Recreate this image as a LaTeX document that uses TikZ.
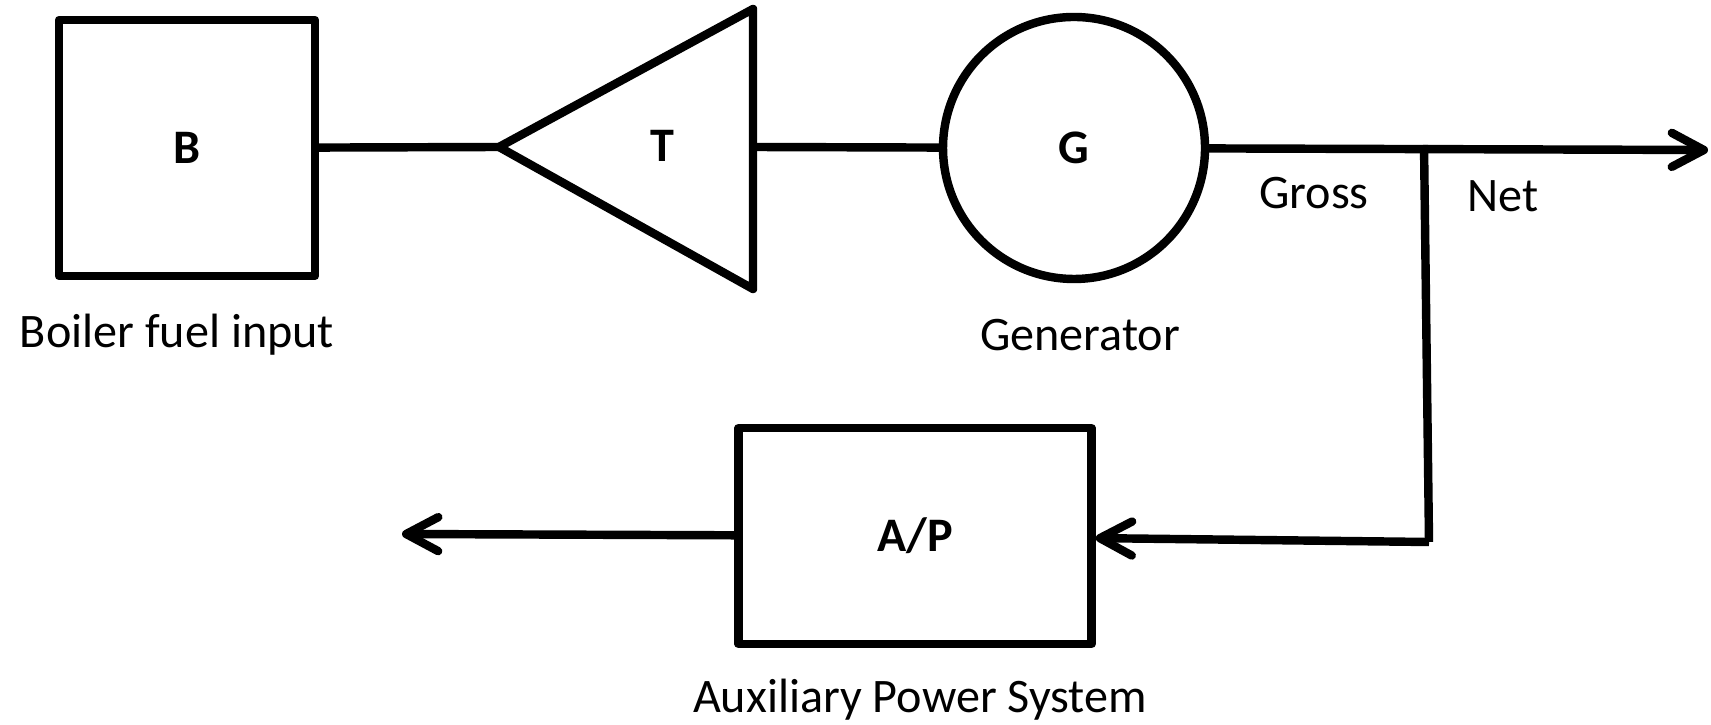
\documentclass[tikz,border=0pt]{standalone}
\usepackage{fontspec}
\setmainfont{Carlito}
\usetikzlibrary{arrows.meta}
\usetikzlibrary{positioning}
\usetikzlibrary{calc}

\tikzset{
  blk/.style={draw, line width=2.4pt, line join=round, font=\bfseries\fontsize{13.7}{16}\selectfont},
  lbl/.style={inner sep=0pt, font=\fontsize{13.7}{16}\selectfont},
  wire/.style={line width=2.4pt, line join=round},
  flow/.style={wire, -{Straight Barb[length=3.2mm, width=3.4mm, round]}},
}

\begin{document}
\begin{tikzpicture}[x=0.1mm, y=-0.1mm]
        \useasboundingbox (0,0) rectangle (1711,725);
        % boiler
        \node[blk, minimum width=25.6mm, minimum height=25.6mm] (B) at (187,148) {B};
        \node[lbl] (Blbl) at (177,335) {Boiler fuel input};
        % turbine
        \coordinate (Tapex) at (499,147);
        \coordinate (Tback) at (753,147);
        \draw[wire] (Tapex) -- (753,9) -- (753,289) -- cycle;
        \node[lbl, font=\bfseries\fontsize{13.7}{16}\selectfont] (T) at (662,146) {T};
        % generator
        \node[blk, circle, minimum size=26.2mm] (G) at (1074,148) {G};
        \node[lbl] (Glbl) at (1080,335) {Generator};
        % auxiliaries
        \node[blk, minimum width=35.3mm, minimum height=21.6mm] (AP) at (915,536) {A/P};
        \node[lbl] (APlbl) at (920,700) {Auxiliary Power System};
        \coordinate (split) at (1424,145);
        \coordinate (tap) at (1429,542);
        \coordinate (out) at (1708,150);
        \coordinate (aux) at (402,534);
        \draw[wire] (B) -- (Tapex);
        \draw[wire] (Tback) -- (G);
        \draw[flow] (G) -- (out);
        \draw[wire] (split) -- (tap);
        \draw[flow] (tap) -- (AP);
        \draw[flow] (AP) -- (aux);
        \node[lbl] (gross) at (1314,193) {Gross};
        \node[lbl] (net) at (1503,196) {Net};
    \end{tikzpicture}
\end{document}
